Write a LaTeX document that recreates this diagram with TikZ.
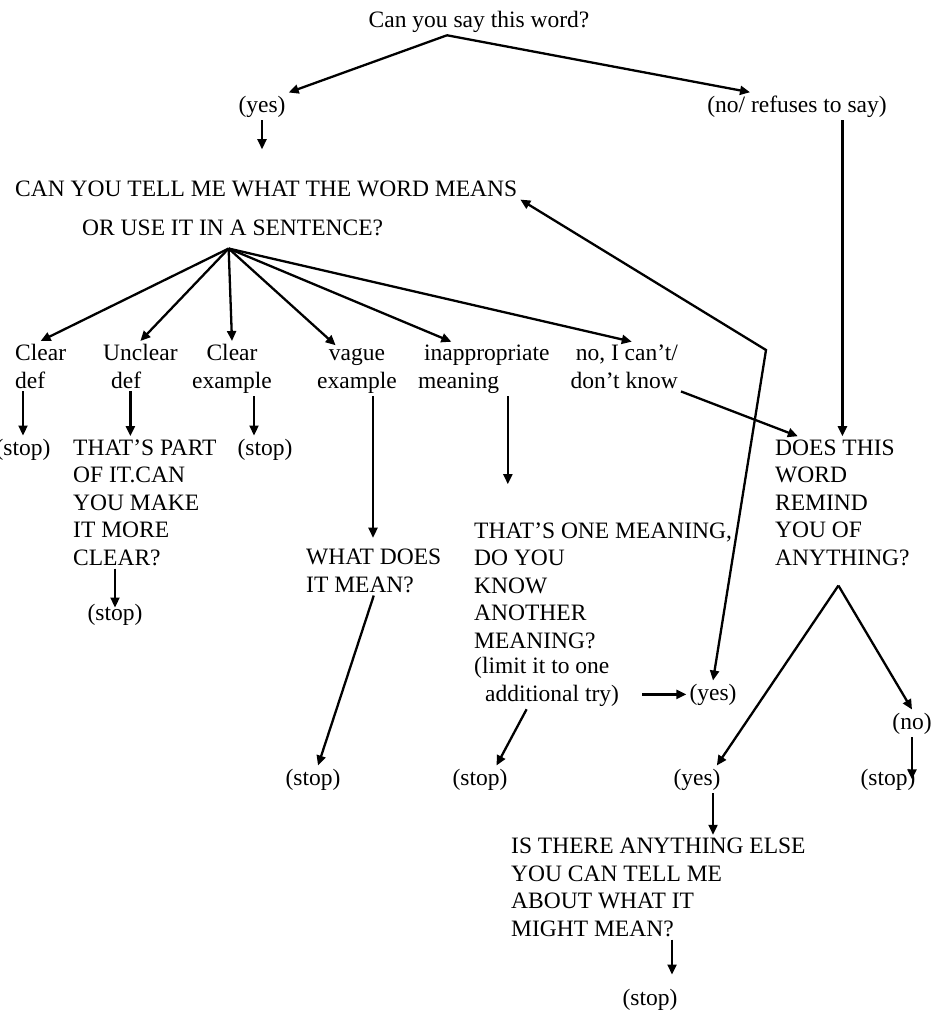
\documentclass[tikz,border=0pt]{standalone}
\usepackage{fontspec}
\setmainfont{Liberation Serif}
\usetikzlibrary{arrows.meta}

\begin{document}
\begin{tikzpicture}[x=1pt, y=-1pt, >={Triangle[length=10pt, width=9pt]},
    txt/.style={font=\fontsize{23.5}{27.5}\selectfont, inner sep=3pt},
    arr/.style={line width=2.3pt, ->}]
    \useasboundingbox (0,0) rectangle (932,1012);

    \node[txt, anchor=base] (say) at (479,27) {Can you say this word?};
    \node[txt, anchor=base] (yes1) at (262,112) {(yes)};
    \node[txt, anchor=base] (no1) at (797,112) {(no/ refuses to say)};
    \node[txt, anchor=base west] (tell) at (12,196) {CAN YOU TELL ME WHAT THE WORD MEANS};
    \node[txt, anchor=base west] (use) at (79,235) {OR USE IT IN A SENTENCE?};

    \node[txt, anchor=base west, align=left] (cdef) at (12,388) {Clear\\def};
    \node[txt, anchor=base west, align=left] (udef) at (100,388) {Unclear\\\hspace{8pt}def};
    \node[txt, anchor=base, align=center] (cex) at (232,388) {Clear\\example};
    \node[txt, anchor=base, align=center] (vex) at (357,388) {vague\\example};
    \node[txt, anchor=base west, align=left] (inap) at (415,388) {\hspace{6pt}inappropriate\\meaning};
    \node[txt, anchor=base east, align=right] (dunno) at (681,388) {no, I can't/\\don't know};

    \node[txt, anchor=base west, align=left] (partq) at (70,565) {THAT'S PART\\OF IT.CAN\\YOU MAKE\\IT MORE\\CLEAR?};
    \node[txt, anchor=base west, align=left] (whatq) at (303,592) {WHAT DOES\\IT MEAN?};
    \node[txt, anchor=base west, align=left] (oneq) at (471,648) {THAT'S ONE MEANING,\\DO YOU\\KNOW\\ANOTHER\\MEANING?};
    \node[txt, anchor=base west, align=left] (lim) at (471,701) {(limit it to one\\\hspace{11pt}additional try)};
    \node[txt, anchor=base west, align=left] (remq) at (772,565) {DOES THIS\\WORD\\REMIND\\YOU OF\\ANYTHING?};
    \node[txt, anchor=base west, align=left] (elseq) at (508,936) {IS THERE ANYTHING ELSE\\YOU CAN TELL ME\\ABOUT WHAT IT\\MIGHT MEAN?};

    \node[txt, anchor=base] (yes2) at (713,700) {(yes)};
    \node[txt, anchor=base] (yes3) at (697,785) {(yes)};
    \node[txt, anchor=base] (no3) at (912,729) {(no)};

    \foreach \n/\x/\y in {stopA/23/455, stopB/115/620, stopC/265/455, stopD/313/785,
                          stopE/480/785, stopF/888/785, stopG/650/1005} {
        \node[txt, anchor=base] (\n) at (\x,\y) {(stop)};
    }

    \coordinate (split) at ([xshift=-32pt]say.south);
    \coordinate (hub) at ([xshift=-4pt, yshift=-10pt]use.south);
    \coordinate (apex) at ([xshift=-4pt, yshift=-17pt]remq.south);
    \coordinate (bend) at (766,350);

    \draw[arr] (split) -- (yes1.north east);
    \draw[arr] (split) -- ([xshift=-47pt]no1.north);
    \draw[arr, shorten >=28pt] (yes1.south) -- (yes1.south |- tell.north);

    \foreach \n/\a in {cdef/north, udef/north, cex/north, vex/130, inap/140, dunno/73} {
        \draw[arr] (hub) -- (\n.\a);
    }

    \draw[arr] (stopA.north |- cdef.south) -- (stopA.north);
    \draw[arr] ([xshift=-10pt]udef.south) -- ([xshift=-10pt]udef.south |- partq.north);
    \draw[arr, shorten >=-7pt] (stopB.north |- partq.south) -- (stopB.north);
    \draw[arr] ([xshift=22pt]cex.south) -- ([xshift=22pt]cex.south |- stopC.north);
    \draw[arr, shorten >=8pt] ([xshift=16pt]vex.south) -- ([xshift=16pt]vex.south |- whatq.north);
    \draw[arr] (whatq.south) -- (stopD.70);
    \draw[arr, shorten >=35pt] ([xshift=24pt]inap.south) -- ([xshift=24pt]inap.south |- oneq.north);
    \draw[arr, shorten <=20pt] (lim.south east |- yes2.west) -- (yes2.west);
    \draw[arr] ([xshift=-20pt]lim.south) -- (stopE.40);
    \draw[arr] (dunno.south east) -- (remq.124);
    \draw[arr] (remq.north |- no1.south) -- (remq.north);
    \draw[line width=2.3pt, <->] (tell.south east) -- (bend) -- (yes2.north);

    \draw[arr] (apex) -- (yes3.35);
    \draw[arr] (apex) -- (no3.north);
    \draw[arr] (no3.south) -- (no3.south |- stopF.center);
    \draw[arr] ([xshift=16pt]yes3.south) -- ([xshift=16pt]yes3.south |- elseq.north);
    \draw[arr, shorten >=11pt] ([xshift=22pt]stopG.north |- elseq.south) -- ([xshift=22pt]stopG.north);
\end{tikzpicture}
\end{document}
